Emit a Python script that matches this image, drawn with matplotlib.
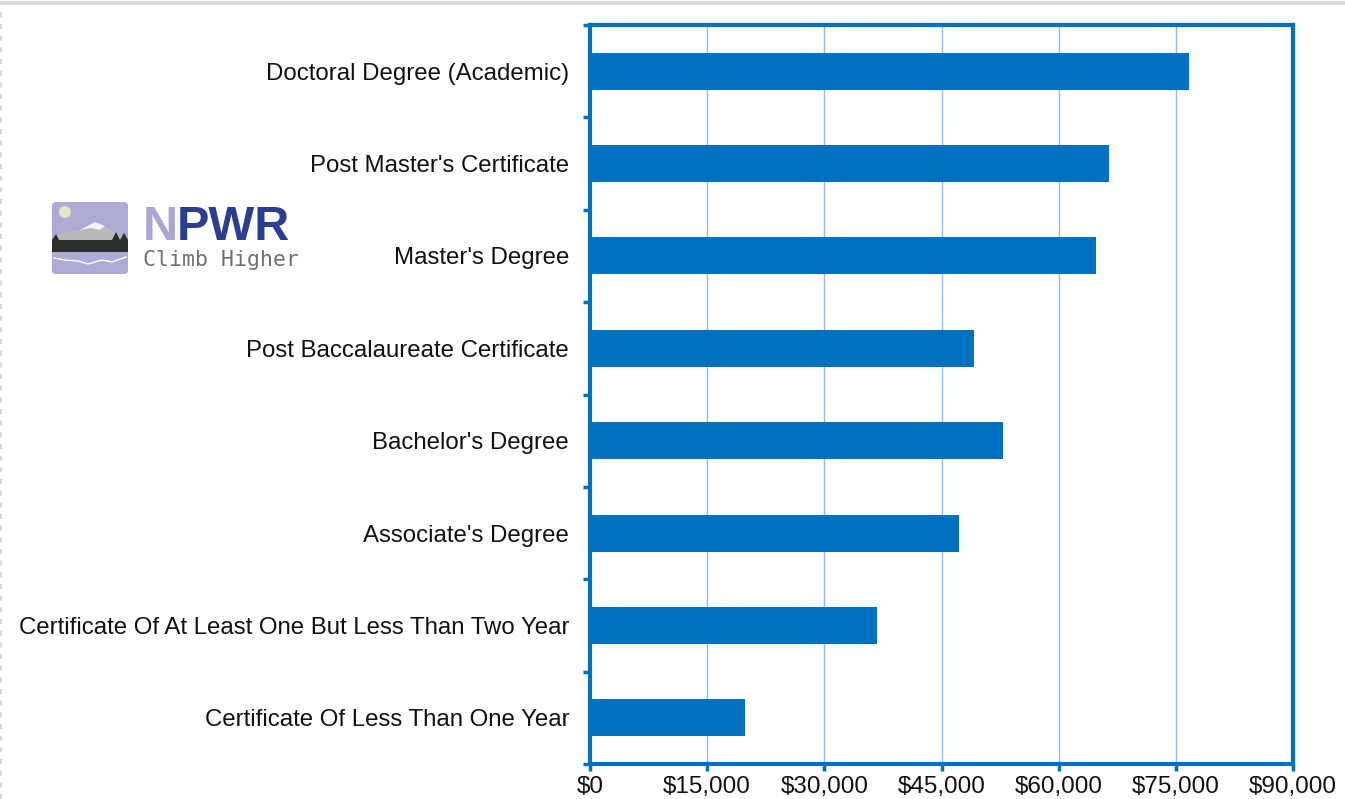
import matplotlib
matplotlib.use("Agg")
import matplotlib.pyplot as plt
from matplotlib.patches import FancyBboxPatch, Circle, Polygon, Rectangle
from matplotlib.lines import Line2D
from matplotlib.ticker import FuncFormatter

categories = [
    "Doctoral Degree (Academic)",
    "Post Master's Certificate",
    "Master's Degree",
    "Post Baccalaureate Certificate",
    "Bachelor's Degree",
    "Associate's Degree",
    "Certificate Of At Least One But Less Than Two Year",
    "Certificate Of Less Than One Year",
]
values = [76700, 66500, 64800, 49100, 52900, 47200, 36700, 19900]
x_ticks = [0, 15000, 30000, 45000, 60000, 75000, 90000]

plt.rcParams['font.family'] = ['Liberation Sans', 'DejaVu Sans']

BLUE = "#0070c0"
GRID = "#8dbde6"

fig = plt.figure(figsize=(13.45, 7.99), dpi=100)
ax = fig.add_axes([590/1345, 1-764/799, (1293-590)/1345, (764-25)/799])

n = len(categories)
ypos = list(range(n))
ax.barh(ypos, values, height=0.4, color=BLUE, zorder=3)
ax.set_ylim(n - 0.5, -0.5)
ax.set_xlim(0, 90000)
ax.set_xticks(x_ticks)
ax.xaxis.set_major_formatter(FuncFormatter(lambda v, p: "${:,.0f}".format(v)))
ax.grid(axis='x', color=GRID, linewidth=1.0, zorder=1)
ax.set_axisbelow(True)

ax.set_yticks(ypos)
ax.set_yticklabels(categories, fontsize=17.3, color="#111111")
ax.tick_params(axis='y', which='major', length=0, pad=15)
ax.set_yticks([i - 0.5 for i in range(n + 1)], minor=True)
ax.tick_params(axis='y', which='minor', length=5, width=2.5, color=BLUE, direction='out')
ax.tick_params(axis='x', which='major', length=5, width=2.5, color=BLUE, direction='out',
               labelsize=17.5, labelcolor="#111111", pad=3.5)

for s in ax.spines.values():
    s.set_color(BLUE)
    s.set_linewidth(3)

fig.add_artist(Line2D([0, 1], [1-3/799, 1-3/799], color="#dddddd", linewidth=3, transform=fig.transFigure))
fig.add_artist(Line2D([1/1345, 1/1345], [0, 1-6/799], color="#d0d0d0", linewidth=1.2,
                      linestyle=(0, (3, 4)), transform=fig.transFigure))

# logo
lax = fig.add_axes([50/1345, 1-276/799, 250/1345, 76/799])
lax.set_xlim(0, 250)
lax.set_ylim(76, 0)
lax.axis('off')
lax.add_patch(FancyBboxPatch((2, 2), 76, 72, boxstyle="round,pad=0,rounding_size=4",
                             facecolor="#aeaad6", edgecolor="none"))
lax.add_patch(Circle((15, 12), 6, facecolor="#e8e4c4", edgecolor="none"))
lax.add_patch(Polygon([(2, 40), (14, 32), (30, 30), (45, 22), (55, 26), (66, 33), (78, 38), (78, 48), (2, 48)],
                      closed=True, facecolor="#b8b8b8", edgecolor="none"))
lax.add_patch(Polygon([(30, 30), (45, 22), (55, 26), (50, 30), (40, 28)],
                      closed=True, facecolor="#f2f2f2", edgecolor="none"))
lax.add_patch(Rectangle((2, 40), 76, 12, facecolor="#2a2f2a", edgecolor="none"))
lax.add_patch(Polygon([(2, 40), (6, 34), (9, 40), (62, 40), (66, 32), (70, 40), (74, 33), (78, 40)],
                      closed=True, facecolor="#2a2f2a", edgecolor="none"))
lax.plot([4, 15, 28, 38, 52, 62, 76], [58, 60, 61, 64, 60, 62, 57], color="white", linewidth=1)
tN = lax.text(93, 27, "N", fontsize=35, fontweight='bold', color="#a9a6d3", va='center', ha='left',
              family=['Liberation Sans'])
renderer = fig.canvas.get_renderer()
bb = tN.get_window_extent(renderer=renderer)
x_end = lax.transData.inverted().transform((bb.x1, bb.y0))[0]
lax.text(x_end - 1, 27, "PWR", fontsize=35, fontweight='bold', color="#2d3e90", va='center', ha='left',
         family=['Liberation Sans'])
lax.text(93, 60, "Climb Higher", fontsize=15.5, color="#707070", va='center', ha='left',
         family=['DejaVu Sans Mono'])

fig.savefig("out.png", dpi=100)
